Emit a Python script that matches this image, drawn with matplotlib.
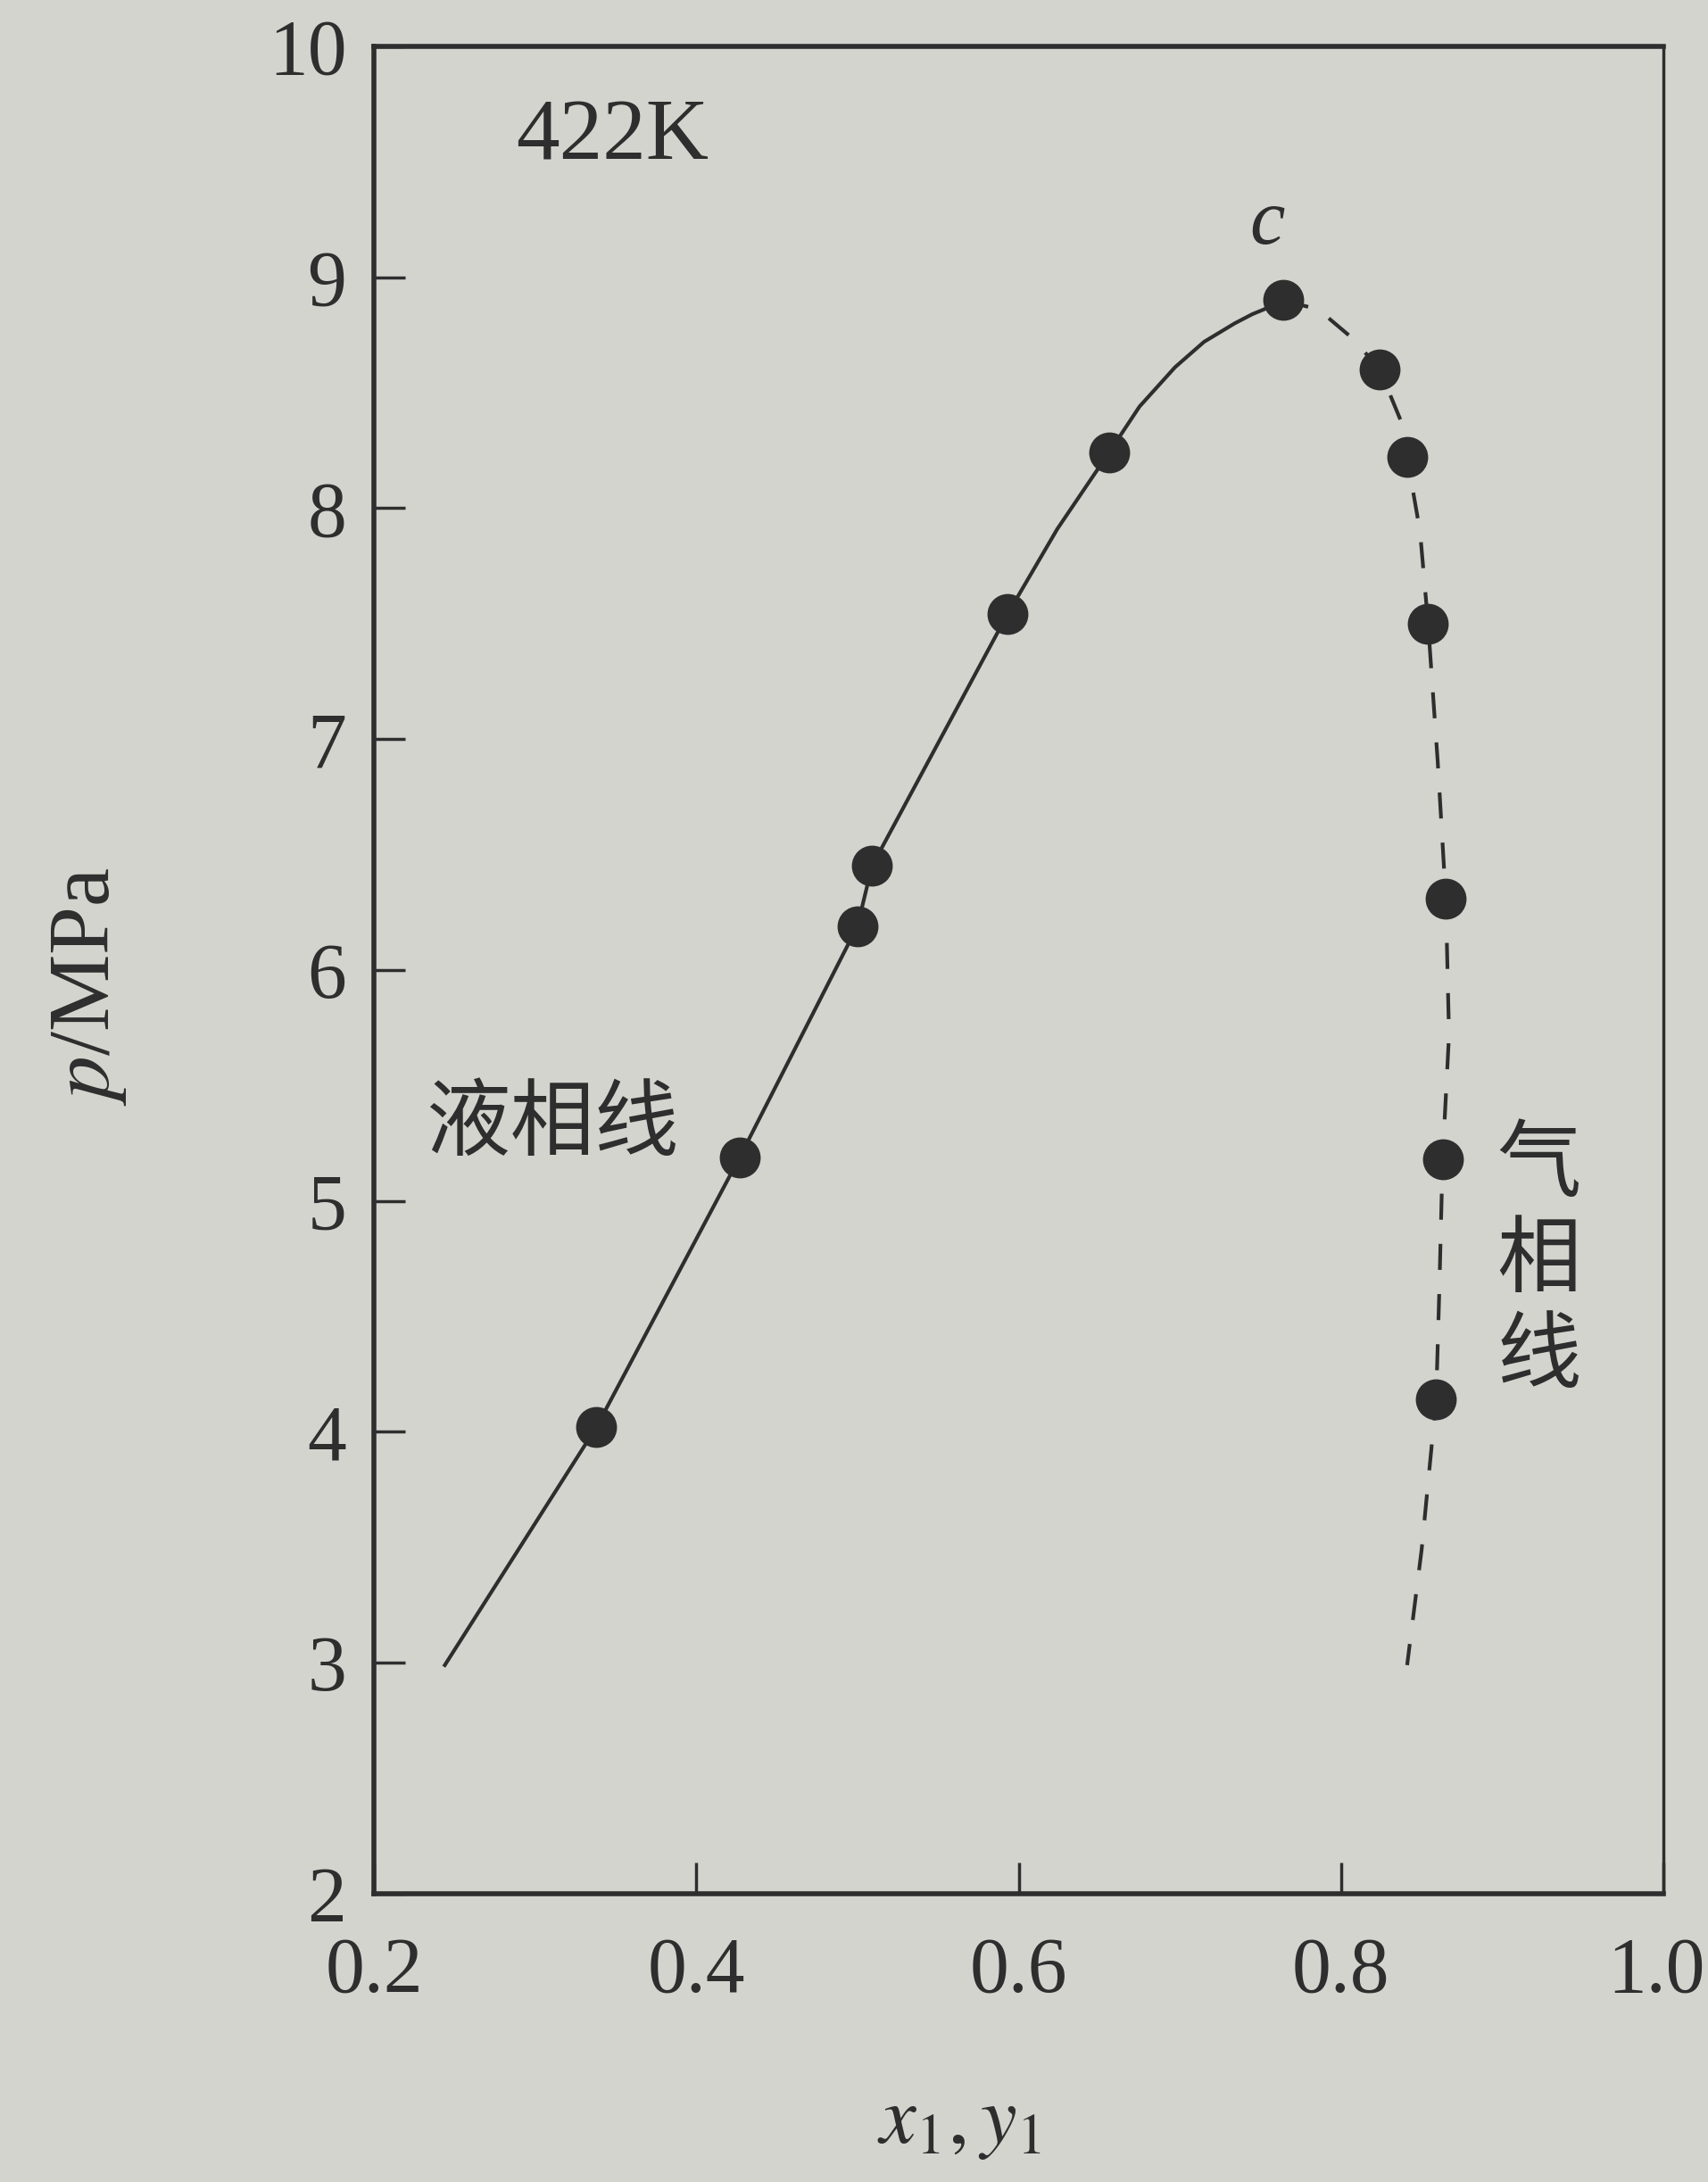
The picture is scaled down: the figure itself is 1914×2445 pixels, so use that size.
import matplotlib
matplotlib.use("Agg")
import matplotlib.pyplot as plt
import matplotlib.transforms as mtransforms

plt.rcParams["font.family"] = ["Liberation Serif", "DejaVu Serif"]
plt.rcParams["mathtext.fontset"] = "stix"

# measured points (x1 or y1, p in MPa)
liq_x = [0.338, 0.427, 0.500, 0.509, 0.593, 0.656, 0.764]
liq_p = [4.02, 5.19, 6.19, 6.45, 7.54, 8.24, 8.90]
vap_x = [0.824, 0.841, 0.854, 0.865, 0.863, 0.859]
vap_p = [8.60, 8.22, 7.50, 6.31, 5.18, 4.14]

# curves
liq_line_x = [0.244, 0.338, 0.427, 0.500, 0.509, 0.593, 0.624, 0.656, 0.675, 0.697,
              0.715, 0.734, 0.745, 0.752, 0.764]
liq_line_p = [2.99, 4.02, 5.19, 6.19, 6.45, 7.54, 7.91, 8.24, 8.44, 8.61,
              8.72, 8.80, 8.84, 8.86, 8.90]
vap_line_x = [0.764, 0.786, 0.808, 0.824, 0.837, 0.841, 0.849, 0.854, 0.860, 0.865,
              0.867, 0.863, 0.861, 0.859, 0.850, 0.841]
vap_line_p = [8.90, 8.86, 8.73, 8.60, 8.38, 8.22, 7.90, 7.50, 6.90, 6.31,
              5.72, 5.18, 4.62, 4.14, 3.49, 2.99]

xticks = [0.2, 0.4, 0.6, 0.8, 1.0]
xticklabels = ["0.2", "0.4", "0.6", "0.8", "1.0"]
yticks = [2, 3, 4, 5, 6, 7, 8, 9, 10]

paper = "#d4d4cf"
ink = "#2e2e2e"

fig = plt.figure(figsize=(19.14, 24.45), dpi=100, facecolor=paper)
ax = fig.add_axes([0.2189, 0.1321, 0.755, 0.8467], facecolor=paper)

ax.plot(liq_line_x, liq_line_p, color=ink, lw=3, solid_joinstyle="round")
ax.plot(vap_line_x, vap_line_p, color=ink, lw=3, linestyle=(0, (7, 6.5)))
ax.plot(liq_x, liq_p, "o", color=ink, ms=32, mec=ink)
ax.plot(vap_x, vap_p, "o", color=ink, ms=32, mec=ink)

ax.set_xlim(0.2, 1.0)
ax.set_ylim(2, 10)
ax.set_xticks(xticks)
ax.set_xticklabels(xticklabels)
ax.set_yticks(yticks)
ax.tick_params(axis="both", direction="in", length=25, width=2.5, colors=ink,
               labelsize=63, labelcolor=ink)
ax.tick_params(axis="x", pad=34)
ax.tick_params(axis="y", pad=22)
for name, s in ax.spines.items():
    s.set_linewidth(2.5 if name == "right" else 4)
    s.set_color(ink)

# keep the last x label inside the page
last = ax.get_xticklabels()[-1]
last.set_transform(last.get_transform() + mtransforms.ScaledTranslation(-8 / 100, 0, fig.dpi_scale_trans))

ax.text(0.288, 9.6, "422K", fontsize=70, color=ink, ha="left", va="center")
ax.text(0.754, 9.23, "c", fontsize=64, color=ink, ha="center", va="center", style="italic")
ax.text(0.232, 5.33, "液相线", fontsize=68, color=ink, ha="left", va="center",
        family=["Noto Sans CJK SC", "DejaVu Sans"])
ax.text(0.923, 4.74, "气\n相\n线", fontsize=68, color=ink, ha="center", va="center",
        linespacing=1.12, family=["Noto Sans CJK SC", "DejaVu Sans"])

ax.text(-0.221, 5.93, r"$p$/MPa", fontsize=70, color=ink, rotation=90,
        ha="center", va="center", transform=ax.get_yaxis_transform())
ax.text(0.563, -0.125, r"$x_{1},y_{1}$", fontsize=66, color=ink,
        ha="center", va="center", transform=ax.get_xaxis_transform())

fig.savefig("out.png", dpi=100, facecolor=paper)
